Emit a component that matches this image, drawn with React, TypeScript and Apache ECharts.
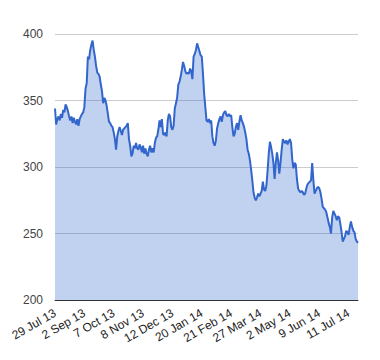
import React, { useEffect, useRef } from "react";
import * as echarts from "echarts";

const tickLabels = [
  "29 Jul 13", "2 Sep 13", "7 Oct 13", "8 Nov 13", "12 Dec 13", "20 Jan 14",
  "21 Feb 14", "27 Mar 14", "2 May 14", "9 Jun 14", "11 Jul 14",
];

const prices = [
  344, 332, 336, 338, 335, 340, 337, 343, 341, 347, 345, 342, 338, 335, 338, 333, 337, 334, 332, 336,
  331, 336, 338, 340, 341, 345, 359, 363, 383, 381, 388, 392, 395, 388, 383, 376, 371, 370, 368, 362,
  357, 348, 352, 350, 346, 340, 334, 333, 331, 330, 326, 321, 313, 323, 327, 330, 327, 324, 328, 329,
  330, 331, 333, 321, 316, 308, 310, 316, 314, 318, 314, 313, 317, 315, 311, 316, 310, 314, 310, 308,
  313, 316, 311, 314, 311, 318, 322, 323, 328, 335, 330, 336, 325, 324, 326, 323, 335, 340, 338, 330,
  328, 331, 344, 348, 352, 362, 364, 368, 373, 379, 376, 372, 370, 371, 370, 374, 372, 366, 383, 385,
  388, 393, 390, 387, 384, 383, 370, 355, 345, 335, 334, 336, 333, 335, 323, 318, 316, 320, 329, 333,
  336, 338, 334, 339, 341, 342, 339, 338, 340, 338, 339, 330, 323, 325, 330, 333, 328, 334, 339, 335,
  333, 330, 326, 321, 313, 310, 305, 298, 290, 281, 277, 275, 277, 280, 278, 280, 282, 289, 283, 282,
  286, 297, 310, 319, 315, 310, 303, 291, 303, 311, 305, 295, 303, 313, 321, 319, 318, 320, 317, 319,
  321, 318, 306, 299, 303, 302, 291, 284, 282, 281, 282, 281, 279, 280, 284, 287, 288, 289, 290, 303,
  290, 280, 282, 284, 285, 284, 281, 276, 270, 269, 268, 266, 262, 258, 255, 250, 262, 267, 265, 263,
  260, 263, 262, 257, 251, 244, 246, 248, 252, 251, 249, 255, 259, 255, 252, 251, 246, 244, 243,
];

const days = prices.map((_, i) => String(i));

export default function App() {
  const ref = useRef<HTMLDivElement>(null);
  useEffect(() => {
    if (!ref.current) return;
    const chart = echarts.init(ref.current, null, { renderer: "svg" });
    const font = 'Arial, "Liberation Sans", sans-serif';
    chart.setOption({
      animation: false,
      grid: { left: 55, right: 22, top: 34, bottom: 60 },
      xAxis: {
        type: "category",
        data: days,
        boundaryGap: false,
        axisLine: { show: true, lineStyle: { color: "#333", width: 1 } },
        axisTick: { show: false },
        splitLine: { show: false },
        axisLabel: {
          interval: 24,
          rotate: 30,
          margin: 12,
          color: "#222",
          fontSize: 12,
          fontFamily: font,
          formatter: (_v: string, idx: number) => tickLabels[Math.round(idx / 25)] ?? "",
        },
      },
      yAxis: {
        type: "value",
        min: 200,
        max: 400,
        interval: 50,
        axisLine: { show: false },
        axisTick: { show: false },
        splitLine: { lineStyle: { color: "#cccccc", width: 1 } },
        axisLabel: { color: "#444", fontSize: 12, fontFamily: font, margin: 12 },
      },
      series: [
        {
          type: "line",
          data: prices,
          showSymbol: false,
          symbol: "none",
          lineStyle: { color: "#3366cc", width: 2 },
          itemStyle: { color: "#3366cc" },
          areaStyle: { color: "#3366cc", opacity: 0.3 },
        },
      ],
    });
    return () => chart.dispose();
  }, []);
  return (
    <div
      ref={ref}
      style={{ position: "absolute", left: 0, top: 0, width: 380, height: 360, background: "#fff" }}
    />
  );
}
